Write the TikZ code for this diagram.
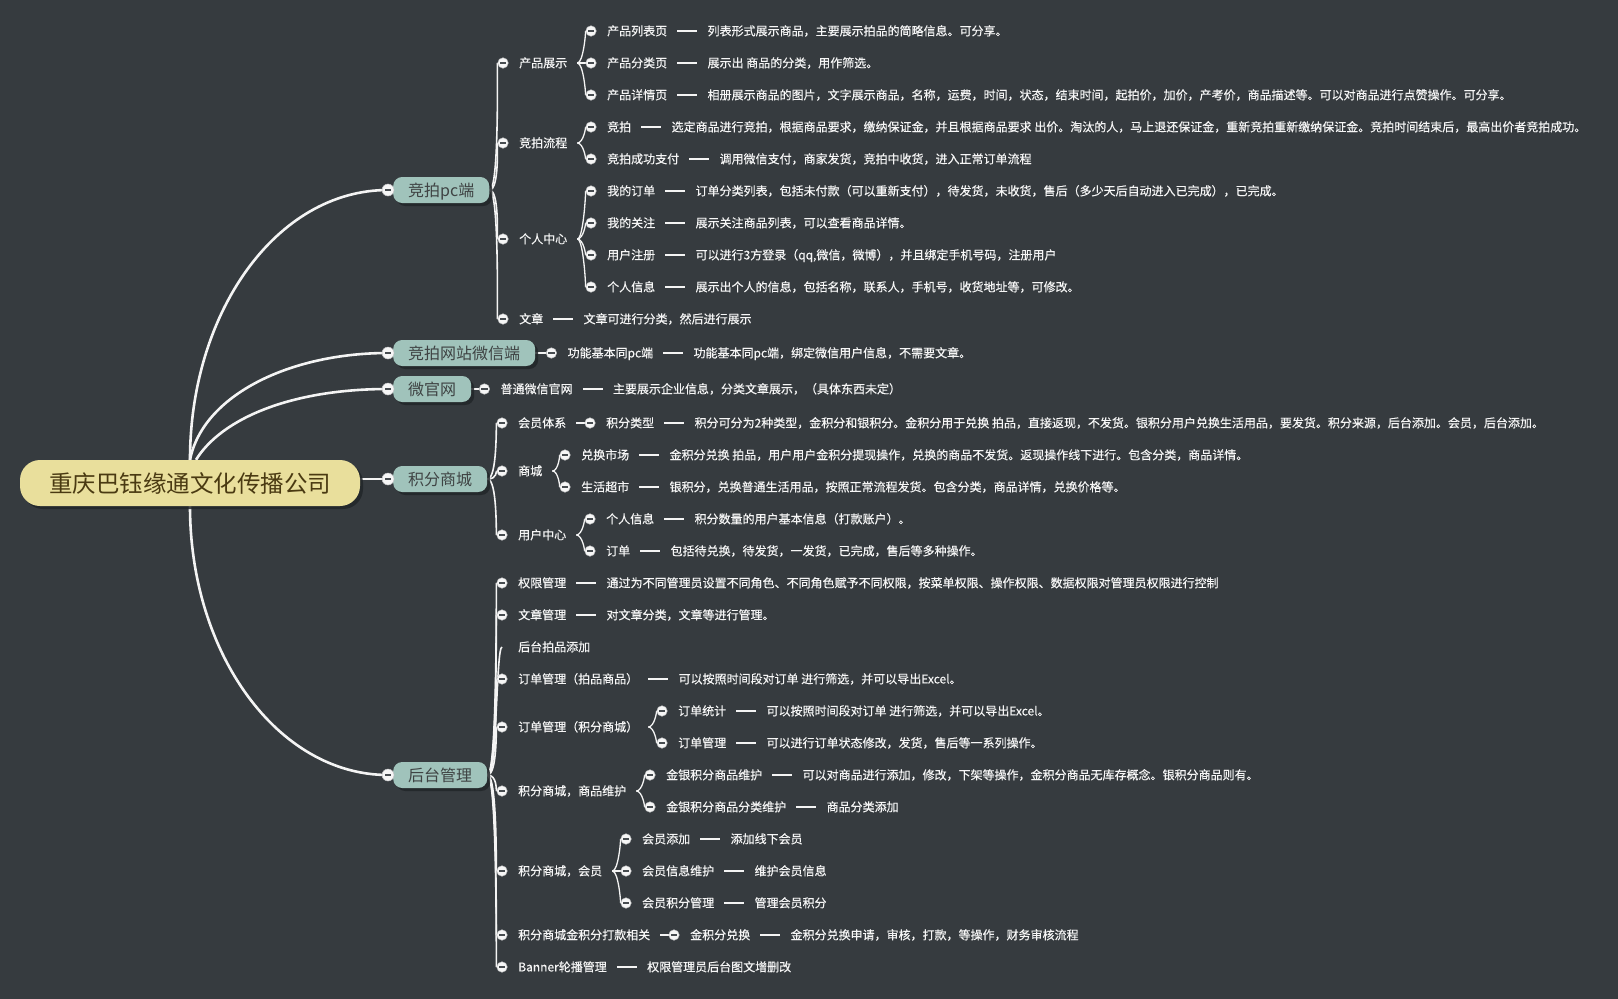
\documentclass[tikz,border=0pt]{standalone}
\usepackage{fontspec}
\setmainfont{Noto Sans CJK SC}
\newfontfamily\lblfont[FakeBold=0.35]{Noto Sans CJK SC}
\usetikzlibrary{shadows}
\definecolor{bgcol}{HTML}{363B3F}
\definecolor{linecol}{HTML}{F4F4F4}
\definecolor{txtcol}{HTML}{F6F6F6}
\definecolor{boxfill}{HTML}{A0C3BB}
\definecolor{boxtext}{HTML}{3F4444}
\definecolor{rootfill}{HTML}{E9DF9C}
\definecolor{roottext}{HTML}{4A3A12}
\definecolor{knobfill}{HTML}{F6F6F6}
\definecolor{knobbar}{HTML}{474C50}
\definecolor{shadowcol}{HTML}{222629}
\pgfdeclarelayer{back}\pgfdeclarelayer{lines}
\pgfsetlayers{back,lines,main}
\tikzset{
 rootbox/.style={rounded corners=20pt, fill=rootfill, text=roottext, font=\fontsize{23.5}{24}\selectfont, minimum width=340pt, minimum height=46pt, inner sep=0pt, text height=20.5pt, text depth=2.5pt, drop shadow={shadow xshift=3pt, shadow yshift=-3pt, fill=shadowcol, opacity=0.85}},
 lonebox/.style={rounded corners=9pt, fill=boxfill, text=boxtext, font=\fontsize{16}{16}\selectfont, minimum height=26pt, inner xsep=15pt, inner ysep=0pt, text height=13.5pt, text depth=1.5pt, anchor=west, drop shadow={shadow xshift=3pt, shadow yshift=-3pt, fill=shadowcol, opacity=0.85}},
 knob/.style={circle, fill=knobfill, draw=knobbar!35!white, line width=0.5pt, minimum size=10.5pt, inner sep=0pt, path picture={\fill[knobbar] ([xshift=-3.3pt,yshift=-1pt]path picture bounding box.center) rectangle ([xshift=3.3pt,yshift=1pt]path picture bounding box.center);}},
 bigknob/.style={knob, minimum size=12pt},
 lbl/.style={anchor=west, inner sep=0pt, text=txtcol, font=\lblfont\fontsize{12}{12}\selectfont, text height=10.4pt, text depth=1.6pt},
 trunk/.style={draw=linecol, line width=2.6pt},
 branch/.style={draw=linecol, line width=1.6pt},
 twig/.style={draw=linecol, line width=1.3pt},
 dashln/.style={draw=linecol, line width=1.7pt, shorten <=10pt, shorten >=10pt},
}
\newcommand\mmKnob[3]{\node[knob] (#1) at (#2,#3) {};}
\newcommand\mmLbl[3]{\node[lbl] (#1) at ([xshift=16pt]#2.center) {#3};}
\newcommand\mmDesc[3]{\node[lbl] (#1) at ([xshift=40pt]#2.east) {#3};\begin{pgfonlayer}{lines}\draw[dashln] (#2.east) -- (#1.west);\end{pgfonlayer}}
\newcommand\mmTip[2]{\coordinate (#1) at ([xshift=10pt]#2.east);}
\newcommand\mmBr[2]{\begin{pgfonlayer}{lines}\draw[twig] (#1) .. controls +(6,0) and +(-5,0) .. (#2);\end{pgfonlayer}}
\newcommand\mmBranch[2]{\begin{pgfonlayer}{lines}\draw[branch] (#1) .. controls +(10,0) and +(-6,0) .. (#2);\end{pgfonlayer}}
\begin{document}
\begin{tikzpicture}[x=1pt,y=-1pt]
\begin{pgfonlayer}{back}
\fill[bgcol] (0,0) rectangle (1618,999);
\end{pgfonlayer}
\useasboundingbox (0,0) rectangle (1618,999);

% root
\node[rootbox] (R) at (190,483) {重庆巴钰缘通文化传播公司};

% level 1 boxes
\node[lonebox] (A) at (393,190) {竞拍pc端};
\node[bigknob] (kA) at (388,190) {};
\node[lonebox] (B) at (393,353) {竞拍网站微信端};
\node[bigknob] (kB) at (388,353) {};
\node[lonebox] (C) at (393,389) {微官网};
\node[bigknob] (kC) at (388,389) {};
\node[lonebox] (D) at (393,479) {积分商城};
\node[bigknob] (kD) at (388,479) {};
\node[lonebox] (E) at (393,775) {后台管理};
\node[bigknob] (kE) at (388,775) {};

\begin{pgfonlayer}{lines}
\draw[trunk] (R.north) .. controls (190,313) and (276,190) .. (kA.center);
\draw[trunk] (R.north) .. controls (203,395) and (290,353) .. (kB.center);
\draw[trunk] ([xshift=6pt]R.north) .. controls (222,418) and (292,389) .. (kC.center);
\draw[trunk] (R.east |- kD) -- (kD.center);
\draw[trunk] (R.south) .. controls (190,654) and (278,775) .. (kE.center);
\end{pgfonlayer}

% ===== A : 竞拍pc端
\mmKnob{ka1}{503}{63}\mmLbl{ta1}{ka1}{产品展示}\mmTip{pa1}{ta1}
\mmKnob{ka11}{591}{31}\mmLbl{ta11}{ka11}{产品列表页}\mmDesc{da11}{ta11}{列表形式展示商品，主要展示拍品的简略信息。可分享。}
\mmKnob{ka12}{591}{63}\mmLbl{ta12}{ka12}{产品分类页}\mmDesc{da12}{ta12}{展示出 商品的分类，用作筛选。}
\mmKnob{ka13}{591}{95}\mmLbl{ta13}{ka13}{产品详情页}\mmDesc{da13}{ta13}{相册展示商品的图片，文字展示商品，名称，运费，时间，状态，结束时间，起拍价，加价，产考价，商品描述等。可以对商品进行点赞操作。可分享。}
\mmBr{pa1}{ka11}\mmBr{pa1}{ka12}\mmBr{pa1}{ka13}

\mmKnob{ka2}{503}{143}\mmLbl{ta2}{ka2}{竞拍流程}\mmTip{pa2}{ta2}
\mmKnob{ka21}{591}{127}\mmLbl{ta21}{ka21}{竞拍}\mmDesc{da21}{ta21}{选定商品进行竞拍，根据商品要求，缴纳保证金，并且根据商品要求 出价。淘汰的人，马上退还保证金，重新竞拍重新缴纳保证金。竞拍时间结束后，最高出价者竞拍成功。}
\mmKnob{ka22}{591}{159}\mmLbl{ta22}{ka22}{竞拍成功支付}\mmDesc{da22}{ta22}{调用微信支付，商家发货，竞拍中收货，进入正常订单流程}
\mmBr{pa2}{ka21}\mmBr{pa2}{ka22}

\mmKnob{ka3}{503}{239}\mmLbl{ta3}{ka3}{个人中心}\mmTip{pa3}{ta3}
\mmKnob{ka31}{591}{191}\mmLbl{ta31}{ka31}{我的订单}\mmDesc{da31}{ta31}{订单分类列表，包括未付款（可以重新支付），待发货，未收货，售后（多少天后自动进入已完成），已完成。}
\mmKnob{ka32}{591}{223}\mmLbl{ta32}{ka32}{我的关注}\mmDesc{da32}{ta32}{展示关注商品列表，可以查看商品详情。}
\mmKnob{ka33}{591}{255}\mmLbl{ta33}{ka33}{用户注册}\mmDesc{da33}{ta33}{可以进行3方登录（qq,微信，微博），并且绑定手机号码，注册用户}
\mmKnob{ka34}{591}{287}\mmLbl{ta34}{ka34}{个人信息}\mmDesc{da34}{ta34}{展示出个人的信息，包括名称，联系人，手机号，收货地址等，可修改。}
\mmBr{pa3}{ka31}\mmBr{pa3}{ka32}\mmBr{pa3}{ka33}\mmBr{pa3}{ka34}

\mmKnob{ka4}{503}{319}\mmLbl{ta4}{ka4}{文章}\mmDesc{da4}{ta4}{文章可进行分类，然后进行展示}

\mmBranch{A.east}{ka1}\mmBranch{A.east}{ka2}\mmBranch{A.east}{ka3}\mmBranch{A.east}{ka4}

% ===== B : 竞拍网站微信端
\node[knob] (kb1) at ([xshift=16pt]B.east) {};
\mmLbl{tb1}{kb1}{功能基本同pc端}\mmDesc{db1}{tb1}{功能基本同pc端，绑定微信用户信息，不需要文章。}
\begin{pgfonlayer}{lines}\draw[branch] (B.east) -- (kb1);\end{pgfonlayer}

% ===== C : 微官网
\node[knob] (kc1) at ([xshift=13pt]C.east) {};
\mmLbl{tc1}{kc1}{普通微信官网}\mmDesc{dc1}{tc1}{主要展示企业信息，分类文章展示，（具体东西未定）}
\begin{pgfonlayer}{lines}\draw[branch] (C.east) -- (kc1);\end{pgfonlayer}

% ===== D : 积分商城
\mmKnob{kd1}{502}{423}\mmLbl{td1}{kd1}{会员体系}\mmTip{pd1}{td1}
\mmKnob{kd11}{590}{423}\mmLbl{td11}{kd11}{积分类型}\mmDesc{dd11}{td11}{积分可分为2种类型，金积分和银积分。金积分用于兑换 拍品，直接返现，不发货。银积分用户兑换生活用品，要发货。积分来源，后台添加。会员，后台添加。}
\mmBr{pd1}{kd11}

\mmKnob{kd2}{502}{471}\mmLbl{td2}{kd2}{商城}\mmTip{pd2}{td2}
\mmKnob{kd21}{565}{455}\mmLbl{td21}{kd21}{兑换市场}\mmDesc{dd21}{td21}{金积分兑换 拍品，用户用户金积分提现操作，兑换的商品不发货。返现操作线下进行。包含分类，商品详情。}
\mmKnob{kd22}{565}{487}\mmLbl{td22}{kd22}{生活超市}\mmDesc{dd22}{td22}{银积分，兑换普通生活用品，按照正常流程发货。包含分类，商品详情，兑换价格等。}
\mmBr{pd2}{kd21}\mmBr{pd2}{kd22}

\mmKnob{kd3}{502}{535}\mmLbl{td3}{kd3}{用户中心}\mmTip{pd3}{td3}
\mmKnob{kd31}{590}{519}\mmLbl{td31}{kd31}{个人信息}\mmDesc{dd31}{td31}{积分数量的用户基本信息（打款账户）。}
\mmKnob{kd32}{590}{551}\mmLbl{td32}{kd32}{订单}\mmDesc{dd32}{td32}{包括待兑换，待发货，一发货，已完成，售后等多种操作。}
\mmBr{pd3}{kd31}\mmBr{pd3}{kd32}

\mmBranch{D.east}{kd1}\mmBranch{D.east}{kd2}\mmBranch{D.east}{kd3}

% ===== E : 后台管理
\mmKnob{ke1}{502}{583}\mmLbl{te1}{ke1}{权限管理}\mmDesc{de1}{te1}{通过为不同管理员设置不同角色、不同角色赋予不同权限，按菜单权限、操作权限、数据权限对管理员权限进行控制}
\mmKnob{ke2}{502}{615}\mmLbl{te2}{ke2}{文章管理}\mmDesc{de2}{te2}{对文章分类，文章等进行管理。}
\coordinate (ke3) at (502,647);\mmLbl{te3}{ke3}{后台拍品添加}
\mmKnob{ke4}{502}{679}\mmLbl{te4}{ke4}{订单管理（拍品商品）}\mmDesc{de4}{te4}{可以按照时间段对订单 进行筛选，并可以导出Excel。}

\mmKnob{ke5}{502}{727}\mmLbl{te5}{ke5}{订单管理（积分商城）}\mmTip{pe5}{te5}
\mmKnob{ke51}{662}{711}\mmLbl{te51}{ke51}{订单统计}\mmDesc{de51}{te51}{可以按照时间段对订单 进行筛选，并可以导出Excel。}
\mmKnob{ke52}{662}{743}\mmLbl{te52}{ke52}{订单管理}\mmDesc{de52}{te52}{可以进行订单状态修改，发货，售后等一系列操作。}
\mmBr{pe5}{ke51}\mmBr{pe5}{ke52}

\mmKnob{ke6}{502}{791}\mmLbl{te6}{ke6}{积分商城，商品维护}\mmTip{pe6}{te6}
\mmKnob{ke61}{650}{775}\mmLbl{te61}{ke61}{金银积分商品维护}\mmDesc{de61}{te61}{可以对商品进行添加，修改，下架等操作，金积分商品无库存概念。银积分商品则有。}
\mmKnob{ke62}{650}{807}\mmLbl{te62}{ke62}{金银积分商品分类维护}\mmDesc{de62}{te62}{商品分类添加}
\mmBr{pe6}{ke61}\mmBr{pe6}{ke62}

\mmKnob{ke7}{502}{871}\mmLbl{te7}{ke7}{积分商城，会员}\mmTip{pe7}{te7}
\mmKnob{ke71}{626}{839}\mmLbl{te71}{ke71}{会员添加}\mmDesc{de71}{te71}{添加线下会员}
\mmKnob{ke72}{626}{871}\mmLbl{te72}{ke72}{会员信息维护}\mmDesc{de72}{te72}{维护会员信息}
\mmKnob{ke73}{626}{903}\mmLbl{te73}{ke73}{会员积分管理}\mmDesc{de73}{te73}{管理会员积分}
\mmBr{pe7}{ke71}\mmBr{pe7}{ke72}\mmBr{pe7}{ke73}

\mmKnob{ke8}{502}{935}\mmLbl{te8}{ke8}{积分商城金积分打款相关}\mmTip{pe8}{te8}
\mmKnob{ke81}{674}{935}\mmLbl{te81}{ke81}{金积分兑换}\mmDesc{de81}{te81}{金积分兑换申请，审核，打款，等操作，财务审核流程}
\mmBr{pe8}{ke81}

\mmKnob{ke9}{502}{967}\mmLbl{te9}{ke9}{Banner轮播管理}\mmDesc{de9}{te9}{权限管理员后台图文增删改}

\mmBranch{E.east}{ke1}\mmBranch{E.east}{ke2}\mmBranch{E.east}{ke3}\mmBranch{E.east}{ke4}
\mmBranch{E.east}{ke5}\mmBranch{E.east}{ke6}\mmBranch{E.east}{ke7}\mmBranch{E.east}{ke8}\mmBranch{E.east}{ke9}
\end{tikzpicture}
\end{document}
